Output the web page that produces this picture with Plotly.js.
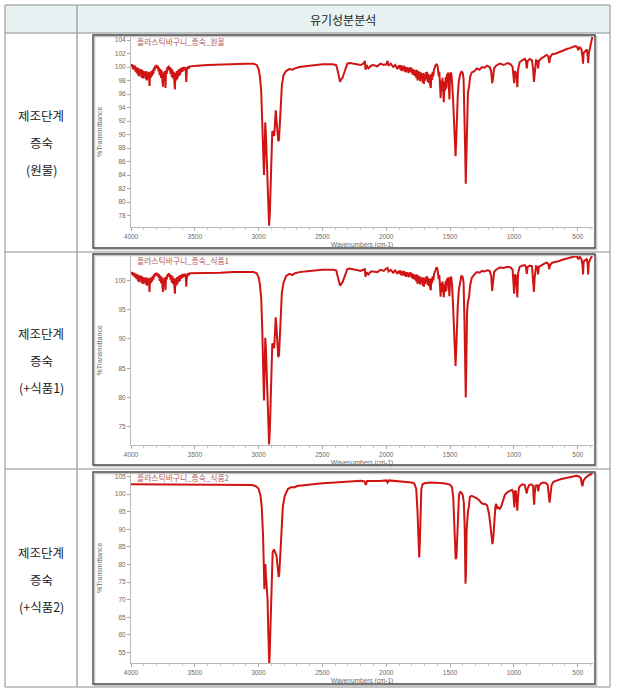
<!DOCTYPE html>
<html><head><meta charset="utf-8">
<script src="https://cdn.plot.ly/plotly-3.0.1.min.js"></script>
<style>html,body{margin:0;padding:0;background:#fff;}#chart{width:619px;height:694px;}</style>
</head><body><div id="chart"></div>
<script>
// ---------- DATA ----------
const headerText = "유기성분분석";
const rowLabels = [
  ["제조단계", "증숙", "(원물)"],
  ["제조단계", "증숙", "(+식품1)"],
  ["제조단계", "증숙", "(+식품2)"]
];
const chartTitles = ["플라스틱바구니_증숙_원물", "플라스틱바구니_증숙_식품1", "플라스틱바구니_증숙_식품2"];
const xTickVals = [4000, 3500, 3000, 2500, 2000, 1500, 1000, 500];
const yTicks1 = [78, 80, 82, 84, 86, 88, 90, 92, 94, 96, 98, 100, 102, 104];
const yTicks2 = [75, 80, 85, 90, 95, 100];
const yTicks3 = [55, 60, 65, 70, 75, 80, 85, 90, 95, 100, 105];

// spectrum 1 : [wavenumber, %T]
const spec1 = [
[4000,100.4],[3995,100.1],[3990,100.4],[3985,99.7],[3980,100.3],[3975,99.6],[3970,100.2],[3965,99.3],[3960,100.0],[3955,99.1],[3950,99.9],[3945,98.8],[3940,99.8],[3935,98.6],[3930,99.6],[3925,98.9],[3920,99.7],[3915,98.4],[3910,99.5],[3905,98.3],[3900,99.4],[3895,98.6],[3890,99.3],[3885,98.2],[3880,99.4],[3875,98.0],[3870,99.2],[3865,98.5],[3860,99.3],[3855,97.2],[3850,99.2],[3845,98.4],[3840,99.4],[3835,98.7],[3830,99.6],[3825,99.0],[3820,99.9],[3815,99.5],[3810,100.2],[3805,99.9],[3800,100.3],[3795,99.8],[3790,100.2],[3785,99.4],[3780,99.9],[3775,98.8],[3770,99.7],[3765,98.4],[3760,99.5],[3755,98.0],[3750,97.1],[3745,99.2],[3740,98.3],[3735,99.4],[3730,96.9],[3725,99.5],[3720,99.0],[3715,100.0],[3710,99.6],[3705,100.2],[3700,99.5],[3695,100.0],[3690,99.0],[3685,99.8],[3680,98.5],[3675,99.6],[3670,98.3],[3665,99.3],[3660,97.6],[3656,96.7],[3652,99.1],[3647,98.0],[3642,99.4],[3637,98.2],[3632,99.5],[3627,98.6],[3622,99.7],[3617,98.8],[3612,99.8],[3607,99.2],[3602,99.9],[3597,99.3],[3592,100.0],[3587,99.5],[3582,100.0],[3577,99.6],[3572,100.0],[3567,97.8],[3562,99.8],[3557,99.7],[3552,100.1],[3545,99.9],[3538,100.1],[3520,100.1],[3480,100.2],[3400,100.3],[3300,100.4],[3200,100.5],[3100,100.5],[3040,100.5],[3015,100.3],[3000,99.7],[2990,98.6],[2980,96.5],[2972,92.5],[2964,86.5],[2958,84.0],[2953,87.5],[2948,91.8],[2943,90.0],[2936,86.5],[2929,82.5],[2923,78.5],[2918,76.5],[2912,78.5],[2905,84.0],[2898,88.5],[2893,90.5],[2886,90.3],[2878,89.8],[2872,91.5],[2866,93.6],[2860,92.2],[2853,90.8],[2846,89.0],[2840,89.3],[2834,91.5],[2827,95.0],[2818,97.2],[2805,98.8],[2785,99.4],[2760,99.7],[2735,99.6],[2715,99.8],[2680,100.0],[2600,100.2],[2500,100.4],[2420,100.4],[2392,100.3],[2380,99.4],[2370,98.2],[2362,97.8],[2352,98.2],[2342,98.4],[2332,99.0],[2320,99.8],[2305,100.5],[2285,100.6],[2260,100.5],[2230,100.4],[2200,100.3],[2180,100.5],[2168,100.9],[2162,99.6],[2155,100.3],[2140,99.8],[2120,100.2],[2100,100.3],[2070,100.1],[2045,100.5],[2020,100.3],[2000,100.4],[1990,100.9],[1982,100.2],[1965,100.5],[1945,100.0],[1930,100.3],[1915,99.8],[1900,100.2],[1895,99.7],[1890,100.3],[1885,99.5],[1880,100.2],[1875,99.4],[1870,100.1],[1865,99.6],[1860,100.2],[1855,99.3],[1850,100.0],[1845,99.2],[1840,100.0],[1835,99.4],[1830,99.9],[1825,99.1],[1820,99.9],[1815,99.3],[1810,100.0],[1805,99.2],[1800,99.8],[1795,98.9],[1790,99.7],[1785,98.8],[1780,99.6],[1775,98.7],[1770,99.5],[1765,98.4],[1760,99.6],[1755,98.0],[1750,99.4],[1745,98.2],[1740,99.3],[1735,97.9],[1730,99.2],[1725,98.3],[1720,99.0],[1715,97.7],[1710,99.1],[1705,97.5],[1700,98.9],[1695,98.0],[1690,99.2],[1685,98.2],[1680,99.3],[1675,97.8],[1670,99.0],[1665,97.6],[1660,98.8],[1655,97.2],[1651,96.9],[1646,99.0],[1641,98.1],[1636,99.3],[1631,98.6],[1626,99.6],[1620,100.0],[1613,100.3],[1606,100.4],[1599,100.2],[1594,99.6],[1589,98.6],[1584,99.3],[1579,97.6],[1574,95.4],[1569,98.0],[1564,96.5],[1559,98.4],[1554,96.2],[1549,94.8],[1544,97.8],[1539,96.5],[1534,98.5],[1529,96.8],[1524,99.0],[1519,98.2],[1514,99.2],[1509,96.6],[1505,95.2],[1500,98.6],[1495,99.2],[1490,99.0],[1485,98.0],[1476,95.0],[1469,91.0],[1463,88.0],[1457,86.8],[1451,89.5],[1446,93.5],[1440,95.6],[1432,97.8],[1422,98.9],[1412,99.3],[1402,99.2],[1394,98.3],[1387,94.0],[1382,88.0],[1377,82.7],[1372,88.5],[1367,94.5],[1360,96.2],[1352,97.0],[1342,98.6],[1330,99.2],[1310,99.4],[1290,99.8],[1270,99.6],[1250,100.0],[1230,99.9],[1210,100.2],[1190,100.0],[1178,99.4],[1170,97.6],[1163,98.4],[1155,99.8],[1140,100.2],[1110,100.5],[1080,100.3],[1050,100.6],[1025,100.4],[1010,100.0],[1003,98.6],[998,97.6],[992,99.4],[985,99.2],[978,98.2],[973,97.0],[967,99.6],[955,100.7],[935,101.0],[915,101.2],[905,100.9],[899,99.8],[892,100.9],[875,101.2],[858,101.0],[848,99.5],[843,97.8],[837,99.4],[826,101.0],[815,100.9],[810,99.8],[804,100.9],[785,101.3],[765,101.5],[745,101.8],[730,101.6],[723,100.6],[716,101.4],[700,101.9],[670,102.0],[645,102.2],[620,102.5],[600,102.6],[580,102.7],[560,102.8],[540,102.9],[520,103.1],[505,103.0],[495,102.5],[485,103.0],[470,102.6],[462,101.5],[458,100.5],[453,102.1],[440,102.4],[428,102.6],[421,101.5],[418,100.6],[413,102.0],[403,102.8],[395,103.6],[390,104.2],[385,104.5]
];

// spectrum 2 : [wavenumber, %T]
const spec2 = [
[4000,101.4],[3995,101.1],[3990,101.4],[3985,100.8],[3980,101.3],[3975,100.7],[3970,101.2],[3965,100.4],[3960,101.1],[3955,100.2],[3950,101.0],[3945,99.9],[3940,100.9],[3935,99.7],[3930,100.7],[3925,100.0],[3920,100.8],[3915,99.5],[3910,100.6],[3905,99.4],[3900,100.5],[3895,99.7],[3890,100.4],[3885,99.3],[3880,100.5],[3875,99.1],[3870,100.3],[3865,99.6],[3860,100.4],[3855,98.0],[3850,100.3],[3845,99.5],[3840,100.5],[3835,99.8],[3830,100.7],[3825,100.1],[3820,101.0],[3815,100.6],[3810,101.2],[3805,100.9],[3800,101.3],[3795,100.8],[3790,101.2],[3785,100.5],[3780,101.0],[3775,99.9],[3770,100.8],[3765,99.5],[3760,100.6],[3755,99.1],[3750,98.0],[3745,100.3],[3740,99.4],[3735,100.5],[3730,98.3],[3725,100.6],[3720,100.1],[3715,101.0],[3710,100.7],[3705,101.2],[3700,100.6],[3695,101.0],[3690,100.1],[3685,100.9],[3680,99.6],[3675,100.7],[3670,99.4],[3665,100.4],[3660,98.6],[3656,97.7],[3652,100.2],[3647,99.1],[3642,100.5],[3637,99.3],[3632,100.6],[3627,99.7],[3622,100.8],[3617,99.9],[3612,100.9],[3607,100.3],[3602,101.0],[3597,100.4],[3592,101.1],[3587,100.6],[3582,101.1],[3577,100.7],[3572,101.1],[3567,98.9],[3562,100.9],[3557,100.8],[3552,101.2],[3545,101.0],[3538,101.2],[3500,101.2],[3400,101.3],[3300,101.3],[3200,101.4],[3100,101.4],[3040,101.4],[3015,101.2],[3000,100.5],[2990,99.3],[2980,97.0],[2972,92.0],[2964,84.0],[2958,79.5],[2953,84.5],[2948,90.2],[2943,88.5],[2936,84.0],[2929,79.0],[2923,74.5],[2918,72.0],[2912,74.5],[2905,80.0],[2898,86.0],[2893,89.2],[2886,89.0],[2878,88.4],[2872,91.0],[2866,93.7],[2860,92.0],[2853,89.5],[2846,86.9],[2840,87.3],[2834,90.5],[2827,94.8],[2818,97.8],[2805,99.6],[2785,100.7],[2760,101.1],[2735,100.9],[2715,101.2],[2680,101.4],[2600,101.6],[2500,101.8],[2420,101.8],[2392,101.7],[2380,100.6],[2370,99.5],[2362,99.1],[2352,99.4],[2342,99.7],[2332,100.3],[2320,101.1],[2305,101.9],[2285,102.0],[2260,101.9],[2230,101.7],[2200,101.6],[2180,101.8],[2168,101.9],[2162,100.6],[2155,101.4],[2140,101.0],[2120,101.5],[2100,101.5],[2070,101.4],[2045,101.8],[2020,101.6],[2000,102.0],[1990,102.1],[1982,101.5],[1965,101.8],[1945,101.3],[1930,101.7],[1915,101.2],[1900,101.6],[1895,101.1],[1890,101.7],[1885,100.9],[1880,101.6],[1875,100.8],[1870,101.5],[1865,101.0],[1860,101.6],[1855,100.7],[1850,101.4],[1845,100.6],[1840,101.4],[1835,100.8],[1830,101.3],[1825,100.5],[1820,101.3],[1815,100.7],[1810,101.4],[1805,100.6],[1800,101.2],[1795,100.3],[1790,101.1],[1785,100.2],[1780,101.0],[1775,100.1],[1770,100.9],[1765,99.8],[1760,101.0],[1755,99.4],[1750,100.8],[1745,99.6],[1740,100.7],[1735,99.3],[1730,100.6],[1725,99.7],[1720,100.4],[1715,99.1],[1710,100.5],[1705,98.9],[1700,100.3],[1695,99.4],[1690,100.6],[1685,99.6],[1680,100.7],[1675,99.2],[1670,100.4],[1665,99.0],[1660,100.2],[1655,98.6],[1651,98.3],[1646,100.4],[1641,99.5],[1636,100.7],[1631,100.0],[1626,101.0],[1620,101.5],[1613,101.9],[1606,102.2],[1599,102.0],[1594,101.2],[1589,100.2],[1584,100.9],[1579,99.0],[1574,97.2],[1569,99.6],[1564,98.0],[1559,99.8],[1554,97.8],[1549,97.1],[1544,99.3],[1539,98.0],[1534,99.9],[1529,98.2],[1524,100.3],[1519,99.6],[1514,100.5],[1509,98.0],[1505,97.3],[1500,100.0],[1495,100.6],[1490,100.4],[1485,99.4],[1476,95.5],[1469,91.0],[1463,87.5],[1457,85.4],[1451,88.5],[1446,93.0],[1440,95.5],[1432,98.2],[1422,100.0],[1412,100.8],[1402,100.6],[1394,99.6],[1387,93.0],[1382,86.0],[1377,80.0],[1372,86.5],[1367,94.5],[1360,96.4],[1352,97.0],[1342,99.2],[1330,100.4],[1310,101.0],[1290,101.4],[1270,101.3],[1250,101.6],[1230,101.5],[1210,101.7],[1190,101.6],[1178,100.8],[1170,98.2],[1163,99.4],[1155,101.4],[1140,101.8],[1110,102.2],[1080,102.1],[1050,102.3],[1025,102.2],[1010,101.8],[1003,99.5],[998,97.7],[992,101.0],[985,100.8],[978,99.0],[973,97.1],[967,101.2],[955,102.3],[935,102.5],[915,102.6],[905,102.3],[899,101.1],[892,102.3],[875,102.5],[858,102.4],[848,100.0],[843,98.0],[837,100.5],[826,102.4],[815,102.3],[810,101.0],[804,102.3],[785,102.6],[765,102.8],[745,103.0],[730,102.8],[723,101.9],[716,102.6],[700,103.0],[670,103.1],[645,103.3],[620,103.5],[600,103.6],[580,103.7],[560,103.8],[540,103.9],[520,104.1],[505,104.0],[495,103.6],[485,104.0],[470,103.6],[462,102.5],[458,101.0],[453,103.2],[440,103.5],[428,103.7],[421,102.5],[418,101.0],[413,103.0],[403,103.6],[395,103.9],[385,104.1]
];

// spectrum 3 : [wavenumber, %T]
const spec3 = [
[4000,102.8],[3800,102.8],[3500,102.8],[3200,102.8],[3100,102.7],[3050,102.6],[3020,102.2],[3000,101.5],[2985,99.5],[2975,96.0],[2965,88.0],[2958,76.0],[2955,73.0],[2950,78.0],[2947,80.1],[2943,77.0],[2938,74.0],[2930,70.0],[2925,62.0],[2920,54.0],[2917,51.8],[2913,55.0],[2905,68.0],[2897,78.0],[2890,83.5],[2880,84.3],[2870,83.2],[2860,82.5],[2850,79.0],[2843,76.4],[2838,77.5],[2830,84.0],[2820,92.0],[2810,96.5],[2795,99.5],[2770,101.5],[2740,102.0],[2720,101.9],[2700,102.3],[2600,102.8],[2500,103.1],[2400,103.3],[2300,103.6],[2250,103.8],[2200,103.8],[2170,103.6],[2160,102.6],[2150,103.7],[2100,103.6],[2050,103.7],[2000,103.9],[1990,103.3],[1980,103.9],[1900,103.6],[1850,103.4],[1800,103.3],[1780,103.0],[1765,101.5],[1755,95.0],[1748,84.0],[1742,82.0],[1737,86.0],[1732,95.0],[1725,101.5],[1715,102.8],[1700,103.1],[1650,103.3],[1600,103.3],[1550,103.1],[1500,102.7],[1485,102.0],[1475,99.0],[1468,93.0],[1462,85.0],[1456,81.5],[1450,82.0],[1444,88.0],[1438,96.0],[1430,99.8],[1420,100.6],[1410,100.4],[1400,99.6],[1392,97.5],[1385,90.0],[1379,74.5],[1375,78.0],[1370,90.0],[1365,94.0],[1360,95.0],[1352,96.5],[1345,99.2],[1330,99.5],[1310,99.2],[1290,98.8],[1270,98.2],[1255,97.5],[1240,97.2],[1225,97.2],[1210,96.8],[1195,94.5],[1185,91.5],[1175,87.5],[1168,85.8],[1160,88.0],[1152,93.0],[1145,96.5],[1138,97.2],[1130,96.0],[1120,96.2],[1110,95.8],[1100,96.4],[1085,98.5],[1070,99.8],[1050,100.6],[1030,100.9],[1015,101.2],[1005,100.5],[1000,97.0],[996,96.2],[992,100.8],[985,100.8],[978,98.0],[973,95.3],[968,99.0],[960,101.9],[945,102.5],[930,102.8],[915,102.6],[905,101.5],[899,100.2],[893,101.5],[880,102.6],[865,102.8],[850,102.4],[845,99.0],[841,97.0],[837,100.0],[830,102.4],[815,102.5],[809,100.8],[803,102.3],[790,103.0],[770,103.3],[750,103.2],[735,102.6],[725,99.5],[720,97.6],[714,99.5],[705,102.5],[690,103.5],[660,104.0],[630,104.3],[600,104.5],[570,104.8],[540,105.0],[510,105.2],[490,105.0],[475,104.5],[468,102.8],[462,102.3],[455,103.8],[440,104.6],[420,105.2],[400,105.7],[385,105.9]
];

// ---------- LAYOUT HELPERS ----------
const W = 619, H = 694;
const px = x => x / W;
const py = y => 1 - y / H;

const plotX = [131, 593];
const plots = [
  {top: 37, bottom: 227, range: [76.3, 104.45], ticks: yTicks1, frame: [93, 35, 595, 248]},
  {top: 256, bottom: 445, range: [71.9, 104.15], ticks: yTicks2, frame: [93, 254, 595, 465]},
  {top: 473, bottom: 663, range: [52.0, 106.0], ticks: yTicks3, frame: [93, 472, 595, 684]}
];
const specs = [spec1, spec2, spec3];

const tickFont = {family: "Liberation Sans, Arial, sans-serif", size: 6.5, color: "#6a6a6a"};
const traces = [];
const layout = {
  width: W, height: H,
  margin: {l: 0, r: 0, t: 0, b: 0},
  paper_bgcolor: "#ffffff", plot_bgcolor: "#ffffff",
  showlegend: false,
  shapes: [], annotations: []
};

plots.forEach((p, i) => {
  const n = i === 0 ? "" : String(i + 1);
  traces.push({
    x: specs[i].map(d => d[0]),
    y: specs[i].map(d => d[1]),
    xaxis: "x" + n, yaxis: "y" + n,
    type: "scatter", mode: "lines",
    line: {color: "#d01414", width: 2},
    hoverinfo: "skip"
  });
  layout["xaxis" + n] = {
    domain: [px(plotX[0]), px(plotX[1])],
    anchor: "y" + n,
    range: [4000, 380],
    tickvals: xTickVals, ticktext: xTickVals.map(String),
    ticks: "outside", ticklen: 3, tickcolor: "#aaaaaa", tickwidth: 1,
    minor: {dtick: 100, ticks: "outside", ticklen: 2, tickcolor: "#c8c8c8"},
    showline: true, linecolor: "#b8b8b8", linewidth: 1,
    showgrid: false, zeroline: false,
    tickfont: tickFont, fixedrange: true
  };
  layout["yaxis" + n] = {
    domain: [py(p.bottom), py(p.top)],
    anchor: "x" + n,
    range: p.range,
    tickvals: p.ticks, ticktext: p.ticks.map(String),
    ticks: "outside", ticklen: 3, tickcolor: "#aaaaaa", tickwidth: 1,
    showline: true, linecolor: "#b8b8b8", linewidth: 1,
    showgrid: false, zeroline: false,
    tickfont: tickFont, fixedrange: true
  };
  const f = p.frame;
  layout.shapes.push({type: "rect", xref: "paper", yref: "paper",
    x0: px(f[0] + 1.5), x1: px(f[2] + 1.5), y0: py(f[3] + 1.5), y1: py(f[1] + 1.5),
    line: {color: "#c8c8c8", width: 1.5}, layer: "below"});
  layout.shapes.push({type: "rect", xref: "paper", yref: "paper",
    x0: px(f[0]), x1: px(f[2]), y0: py(f[3]), y1: py(f[1]),
    line: {color: "#4a4a4a", width: 1.4}});
  layout.annotations.push({xref: "paper", yref: "paper", x: px(135), y: py(p.top + 4.5),
    xanchor: "left", yanchor: "middle", showarrow: false, text: chartTitles[i],
    font: {family: "Noto Sans CJK KR, sans-serif", size: 7.8, color: "#b05a5a"}});
  layout.annotations.push({xref: "paper", yref: "paper", x: px(99), y: py((p.top + p.bottom) / 2),
    xanchor: "center", yanchor: "middle", showarrow: false, textangle: -90, text: "%Transmittance",
    font: {family: "Liberation Sans, Arial, sans-serif", size: 7, color: "#6a6a6a"}});
  layout.annotations.push({xref: "paper", yref: "paper", x: px(362), y: py(p.bottom + 18),
    xanchor: "center", yanchor: "middle", showarrow: false, text: "Wavenumbers (cm-1)",
    font: {family: "Liberation Sans, Arial, sans-serif", size: 6.5, color: "#6a6a6a"}});
});

// ---------- TABLE ----------
const tblL = 5, tblR = 610, tblT = 5, hdrB = 33, colX = 77;
const rowB = [252, 469, 687];
layout.shapes.unshift({type: "rect", xref: "paper", yref: "paper",
  x0: px(tblL), x1: px(tblR), y0: py(hdrB), y1: py(tblT),
  fillcolor: "#e7f2f3", line: {width: 0}, layer: "below"});
const lineStyle = {color: "#8c8c8c", width: 1};
[tblT, hdrB].concat(rowB).forEach(y => layout.shapes.push({type: "line", xref: "paper", yref: "paper",
  x0: px(tblL), x1: px(tblR), y0: py(y), y1: py(y), line: lineStyle}));
[tblL, tblR].forEach(x => layout.shapes.push({type: "line", xref: "paper", yref: "paper",
  x0: px(x), x1: px(x), y0: py(tblT), y1: py(rowB[2]), line: lineStyle}));
layout.shapes.push({type: "line", xref: "paper", yref: "paper",
  x0: px(colX), x1: px(colX), y0: py(tblT), y1: py(rowB[2]), line: {color: "#a8a8a8", width: 1.5}});

layout.annotations.push({xref: "paper", yref: "paper", x: px(343), y: py(19),
  xanchor: "center", yanchor: "middle", showarrow: false, text: headerText,
  font: {family: "Noto Sans CJK KR, sans-serif", size: 12, color: "#222"}});

const labelY = [[115, 143, 170], [333, 360, 387], [552, 579, 606]];
rowLabels.forEach((lines, r) => lines.forEach((t, k) => {
  layout.annotations.push({xref: "paper", yref: "paper", x: px(41), y: py(labelY[r][k]),
    xanchor: "center", yanchor: "middle", showarrow: false, text: t,
    font: {family: "Noto Sans CJK KR, sans-serif", size: 12.5, color: "#222"}});
}));

Plotly.newPlot("chart", traces, layout, {staticPlot: true, displayModeBar: false});
</script></body></html>
